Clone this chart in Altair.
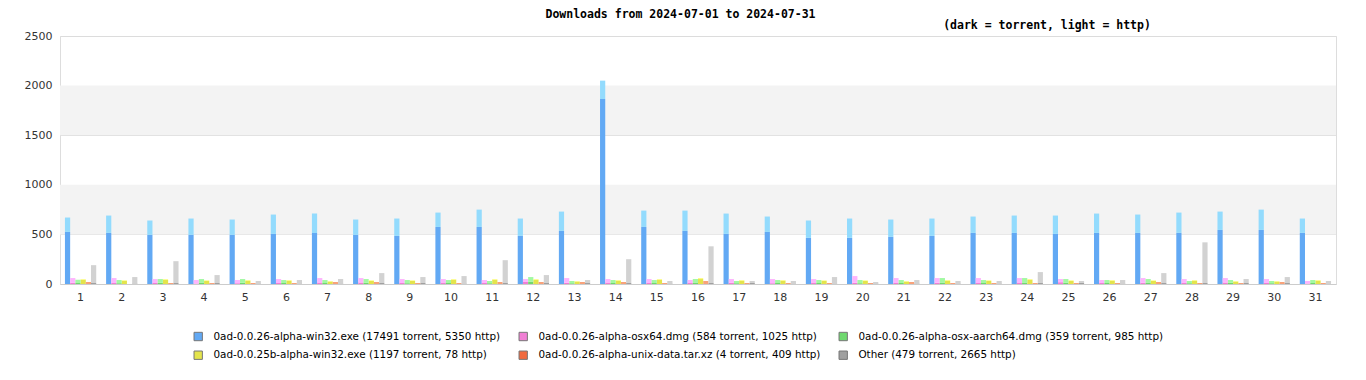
import altair as alt
import pandas as pd

days = list(range(1, 32))

files = [
    "0ad-0.0.26-alpha-win32.exe (17491 torrent, 5350 http)",
    "0ad-0.0.26-alpha-osx64.dmg (584 torrent, 1025 http)",
    "0ad-0.0.26-alpha-osx-aarch64.dmg (359 torrent, 985 http)",
    "0ad-0.0.25b-alpha-win32.exe (1197 torrent, 78 http)",
    "0ad-0.0.26-alpha-unix-data.tar.xz (4 torrent, 409 http)",
    "Other (479 torrent, 2665 http)",
]

dark_colors = ["#62a9f4", "#f07fd4", "#6fd86f", "#e4e44c", "#f06a3f", "#a0a0a0"]
light_colors = ["#93dbfd", "#fdb5fd", "#a2f9a2", "#fbfb84", "#f8a27a", "#d2d2d2"]

win32_torrent = [525, 515, 495, 495, 495, 505, 515, 495, 485, 575, 575, 485, 535, 1865, 575, 535,
                 505, 525, 465, 465, 475, 485, 515, 515, 505, 515, 515, 515, 545, 545, 515]
win32_http = [145, 175, 145, 165, 155, 195, 195, 155, 175, 145, 175, 175, 195, 185, 165, 205,
              205, 155, 175, 195, 175, 175, 165, 175, 185, 195, 185, 205, 185, 205, 145]

osx64_torrent = [12, 10, 10, 5, 8, 10, 15, 15, 10, 15, 10, 20, 12, 15, 10, 10,
                 12, 8, 15, 12, 10, 12, 10, 15, 18, 10, 12, 10, 15, 10, 5]
osx64_http = [48, 50, 40, 35, 32, 40, 45, 45, 40, 35, 30, 30, 48, 35, 40, 30,
              38, 42, 35, 68, 50, 48, 50, 45, 32, 30, 48, 40, 45, 40, 25]

aarch64_torrent = [10, 8, 12, 15, 12, 10, 10, 12, 8, 10, 8, 25, 8, 10, 10, 15,
                   8, 10, 10, 8, 10, 15, 10, 15, 12, 10, 15, 8, 12, 8, 10]
aarch64_http = [33, 32, 38, 35, 38, 30, 30, 38, 32, 30, 22, 45, 22, 30, 30, 35,
                22, 30, 30, 32, 30, 45, 30, 45, 38, 30, 35, 22, 28, 22, 30]

old_torrent = [42, 30, 42, 30, 32, 32, 24, 30, 30, 42, 42, 42, 24, 32, 42, 50,
               32, 32, 30, 30, 24, 32, 30, 42, 30, 32, 30, 32, 24, 24, 32]
old_http = [8, 7, 8, 7, 8, 8, 6, 7, 7, 8, 8, 8, 6, 8, 8, 10,
            8, 8, 7, 7, 6, 8, 7, 8, 7, 8, 7, 8, 6, 6, 8]

unix_torrent = [0] * 31
unix_http = [20, 0, 10, 10, 10, 10, 20, 20, 10, 10, 20, 20, 20, 20, 10, 30,
             10, 10, 10, 10, 20, 10, 10, 10, 10, 10, 20, 10, 10, 20, 10]

other_torrent = [10, 5, 10, 10, 5, 5, 5, 10, 10, 5, 10, 10, 10, 10, 5, 10,
                 10, 5, 5, 5, 5, 5, 5, 10, 10, 5, 10, 10, 10, 10, 5]
other_http = [180, 65, 220, 80, 25, 35, 45, 100, 60, 75, 230, 80, 30, 240, 25, 370,
              20, 25, 65, 15, 35, 25, 25, 110, 20, 35, 100, 410, 40, 60, 25]

torrent_series = [win32_torrent, osx64_torrent, aarch64_torrent, old_torrent, unix_torrent, other_torrent]
http_series = [win32_http, osx64_http, aarch64_http, old_http, unix_http, other_http]

rows = []
for fi, f in enumerate(files):
    for di, d in enumerate(days):
        t = torrent_series[fi][di]
        h = http_series[fi][di]
        rows.append({"day": d, "file": f, "torrent": t, "http": h, "total": t + h})
df = pd.DataFrame(rows)

bands_df = pd.DataFrame({"lo": [500, 1500], "hi": [1000, 2000]})
sub_df = pd.DataFrame({"t": ["(dark = torrent, light = http)"]})

yscale = alt.Scale(domain=[0, 2500], nice=False)
xscale = alt.Scale(paddingInner=0.24, paddingOuter=0.12)
offscale = alt.Scale(paddingInner=0, paddingOuter=0)

bands = alt.Chart(bands_df).mark_rect(color="#f3f3f3").encode(
    y=alt.Y("lo:Q", scale=yscale, axis=alt.Axis(
        values=[0, 500, 1000, 1500, 2000, 2500], format="d", title=None, grid=True,
        gridColor="#dcdcdc", domain=False, ticks=False, labelPadding=8,
        labelFont="DejaVu Sans", labelFontSize=11, labelColor="#333", minExtent=47)),
    y2="hi:Q",
    x=alt.value(0),
    x2=alt.value(1276),
)

base = alt.Chart(df)

torrent_bars = base.mark_bar().encode(
    x=alt.X("day:O", scale=xscale, axis=alt.Axis(
        title=None, labelAngle=0, ticks=False, domainColor="#cccccc",
        labelPadding=7, labelFont="DejaVu Sans", labelFontSize=11, labelColor="#333")),
    xOffset=alt.XOffset("file:N", sort=files, scale=offscale),
    y=alt.Y("torrent:Q", scale=yscale),
    color=alt.Color("file:N", sort=files,
                    scale=alt.Scale(domain=files, range=dark_colors),
                    legend=alt.Legend(
                        title=None, orient="none", legendX=133, legendY=295,
                        direction="horizontal", columns=3, gridAlign="each",
                        symbolType="square", symbolSize=70,
                        symbolStrokeColor="#777", symbolStrokeWidth=1,
                        labelFont="DejaVu Sans", labelFontSize=10.4, labelColor="#000",
                        labelOffset=10, columnPadding=16, rowPadding=6,
                        labelLimit=400)),
)

http_bars = base.mark_bar().encode(
    x=alt.X("day:O", scale=xscale),
    xOffset=alt.XOffset("file:N", sort=files, scale=offscale),
    y=alt.Y("torrent:Q", scale=yscale),
    y2="total:Q",
    color=alt.Color("file:N", sort=files,
                    scale=alt.Scale(domain=files, range=light_colors),
                    legend=None),
)

subtitle = alt.Chart(sub_df).mark_text(
    font="DejaVu Sans Mono", fontSize=11.5, fontWeight="bold", color="#000",
    align="center", baseline="middle"
).encode(x=alt.value(987), y=alt.value(-10), text="t:N")

chart = alt.layer(bands, torrent_bars, http_bars, subtitle).resolve_scale(
    color="independent"
).properties(
    width=1276,
    height=248,
    padding={"left": 5, "top": 0, "right": 5, "bottom": 5},
    title=alt.Title("Downloads from 2024-07-01 to 2024-07-31", font="DejaVu Sans Mono",
                    fontSize=11.5, fontWeight="bold", color="#000",
                    anchor="middle", frame="bounds", offset=0, dx=6),
).configure_view(stroke="#dddddd")

chart.save("out.html", embed_options={"renderer": "svg", "actions": False})
